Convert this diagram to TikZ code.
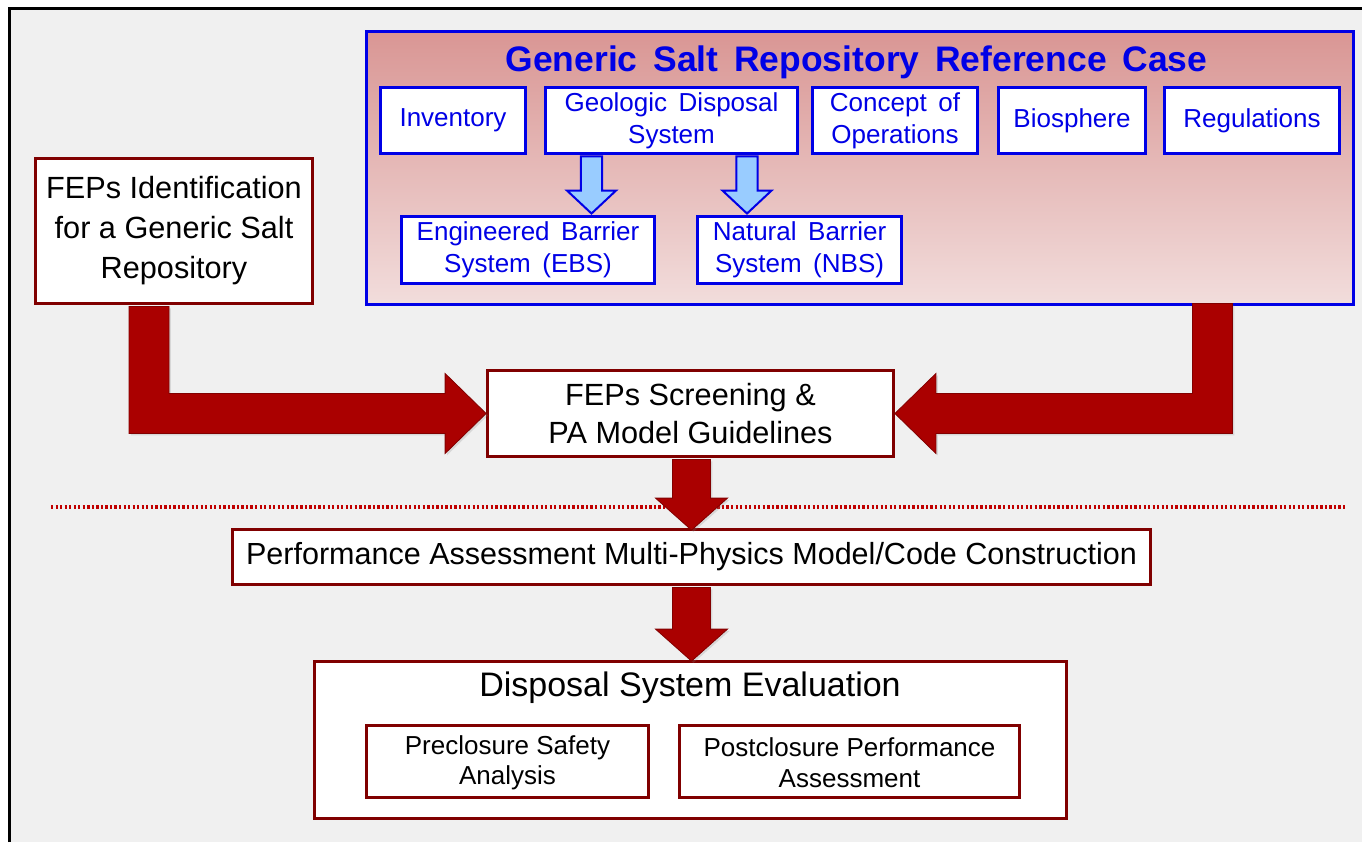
\documentclass[tikz,border=0pt]{standalone}
\usepackage{fontspec}
\setmainfont{Liberation Sans}
\newfontfamily\titlefont{Liberation Sans}[WordSpace=2.1]
\newfontfamily\bluefont{Liberation Sans}[WordSpace=1.6]
\usetikzlibrary{calc,shadows}

\definecolor{pagebg}{RGB}{240,240,240}
\definecolor{gblue}{RGB}{0,0,230}
\definecolor{gtop}{RGB}{217,150,148}
\definecolor{gbottom}{RGB}{242,221,220}
\definecolor{bred}{RGB}{128,0,0}
\definecolor{ared}{RGB}{170,0,0}
\definecolor{aredline}{RGB}{130,0,0}
\definecolor{dotred}{RGB}{192,0,0}
\definecolor{lblue}{RGB}{153,204,255}

\tikzset{
  sz/.style 2 args={minimum width=#1*0.75pt, minimum height=#2*0.75pt},
  bigframe/.style={draw=gblue, line width=2.3pt, top color=gtop, bottom color=gbottom, inner sep=0pt},
  bluebox/.style={draw=gblue, line width=2.2pt, fill=white, text=gblue, align=center, inner sep=0pt,
    font=\bluefont\fontsize{19.5}{24}\selectfont},
  redbox/.style={draw=bred, line width=2.1pt, fill=white, text=black, align=center, inner sep=0pt},
  lbarrow/.style={fill=lblue, draw=gblue, line width=1.5pt, line join=miter},
  bigarrow/.style={fill=ared, draw=aredline, line width=0.6pt, line join=miter,
    drop shadow={opacity=0.22, shadow xshift=1.4pt, shadow yshift=-1.4pt}},
  dotline/.style={draw=dotred, line width=2.4pt, dash pattern=on 1.7pt off 1.7pt}
}

% downward block arrow: style, start, end, shaft half width, head half width, head length
\newcommand\vblockarrow[6]{%
  \path[#1] let \p1=(#2), \p2=(#3) in
    (\x1-#4,\y1) -- (\x1+#4,\y1) -- (\x1+#4,\y2+#6) -- (\x1+#5,\y2+#6)
    -- (\x1,\y2) -- (\x1-#5,\y2+#6) -- (\x1-#4,\y2+#6) -- cycle;}

\begin{document}
\begin{tikzpicture}[x=0.75pt,y=-0.75pt]
\useasboundingbox (0,0) rectangle (1362,842);

% page and frame
\fill[white] (0,0) rectangle (1362,842);
\fill[pagebg] (9.5,8.5) rectangle (1362,842);
\draw[black, line width=2.4pt, line join=miter] (9.5,842) -- (9.5,8.5) -- (1362,8.5);

% reference case panel
\node[bigframe, sz={987}{273}] (grc) at (860,168) {};
\node[anchor=base, text=gblue, font=\titlefont\bfseries\fontsize{26.6}{30}\selectfont]
  (grctitle) at (856.5,72) {Generic Salt Repository Reference Case};

\node[bluebox, sz={145}{66}] (inv) at (453,120.5) {Inventory};
\node[bluebox, sz={252}{66}] (gds) at (671.5,120.5) {Geologic Disposal\\System};
\node[bluebox, sz={165}{66}] (conops) at (895,120.5) {Concept of\\Operations};
\node[bluebox, sz={147}{66}] (bio) at (1072,120.5) {Biosphere};
\node[bluebox, sz={175}{66}] (reg) at (1252,120.5) {Regulations};

\node[bluebox, sz={253}{67}] (ebs) at (528,250) {Engineered Barrier\\System (EBS)};
\node[bluebox, sz={204}{67}] (nbs) at (799.5,250) {Natural Barrier\\System (NBS)};

\coordinate (s1) at ($(gds.south)+(-80,1.5)$);
\coordinate (e1) at ($(s1 |- ebs.north)+(0,-1.5)$);
\coordinate (s2) at ($(gds.south)+(75.5,1.5)$);
\coordinate (e2) at ($(s2 |- nbs.north)+(0,-1.5)$);
\vblockarrow{lbarrow}{s1}{e1}{7.9pt}{18.4pt}{17.25pt}
\vblockarrow{lbarrow}{s2}{e2}{7.9pt}{18.4pt}{17.25pt}

% process boxes
\node[redbox, sz={277}{145}, font=\fontsize{23}{30}\selectfont] (fepsid) at (174,231)
  {FEPs Identification\\for a Generic Salt\\Repository};
\node[redbox, sz={406}{86}, font=\fontsize{23}{29}\selectfont] (screen) at (690.5,413.5)
  {FEPs Screening \&\\PA Model Guidelines};
\node[redbox, sz={918}{55}, font=\fontsize{22.9}{27}\selectfont] (pa) at (691.5,557)
  {Performance Assessment Multi-Physics Model/Code Construction};
\node[redbox, sz={752}{157}] (dse) at (690.5,740) {};
\node[anchor=base, font=\fontsize{25.5}{30}\selectfont] (dsetitle) at (690,696)
  {Disposal System Evaluation};
\node[redbox, sz={282}{72}, font=\fontsize{19.5}{23}\selectfont] (pre) at (507.5,761.5)
  {\strut Preclosure Safety\\Analysis};
\node[redbox, sz={340}{72}, font=\fontsize{19.5}{23}\selectfont] (post) at (849.5,761.5)
  {\strut Postclosure Performance\\Assessment};

% separator
\coordinate (dl) at (51,507);
\coordinate (dr) at (1345,507);
\draw[dotline] (dl) -- (dr);

% elbow arrow from the FEPs identification box
\path[bigarrow] let \p1=($(fepsid.south)+(-25,1.5)$), \p2=(screen.west) in
  (\x1-15pt,\y1) -- (\x1+15pt,\y1) -- (\x1+15pt,\y2+15pt) -- (\x2-30.75pt,\y2+15pt)
  -- (\x2-30.75pt,\y2+30pt) -- (\p2) -- (\x2-30.75pt,\y2-30pt) -- (\x2-30.75pt,\y2-15pt)
  -- (\x1-15pt,\y2-15pt) -- cycle;

% elbow arrow from the reference case panel
\path[bigarrow] let \p1=($(grc.south east)+(-142.5,-2.5)$), \p2=(screen.east) in
  (\x1-15pt,\y1) -- (\x1+15pt,\y1) -- (\x1+15pt,\y2-15pt) -- (\x2+30.75pt,\y2-15pt)
  -- (\x2+30.75pt,\y2-30pt) -- (\p2) -- (\x2+30.75pt,\y2+30pt) -- (\x2+30.75pt,\y2+15pt)
  -- (\x1-15pt,\y2+15pt) -- cycle;

% downward arrows
\coordinate (d1s) at ($(screen.south)+(1,1.5)$);
\coordinate (d1e) at ($(d1s |- pa.north)+(0,2)$);
\coordinate (d2s) at ($(pa.south)+(0,1.5)$);
\coordinate (d2e) at ($(d2s |- dse.north)+(0,1)$);
\vblockarrow{bigarrow}{d1s}{d1e}{14.25pt}{27pt}{24pt}
\vblockarrow{bigarrow}{d2s}{d2e}{14.25pt}{27pt}{24pt}
\end{tikzpicture}
\end{document}
